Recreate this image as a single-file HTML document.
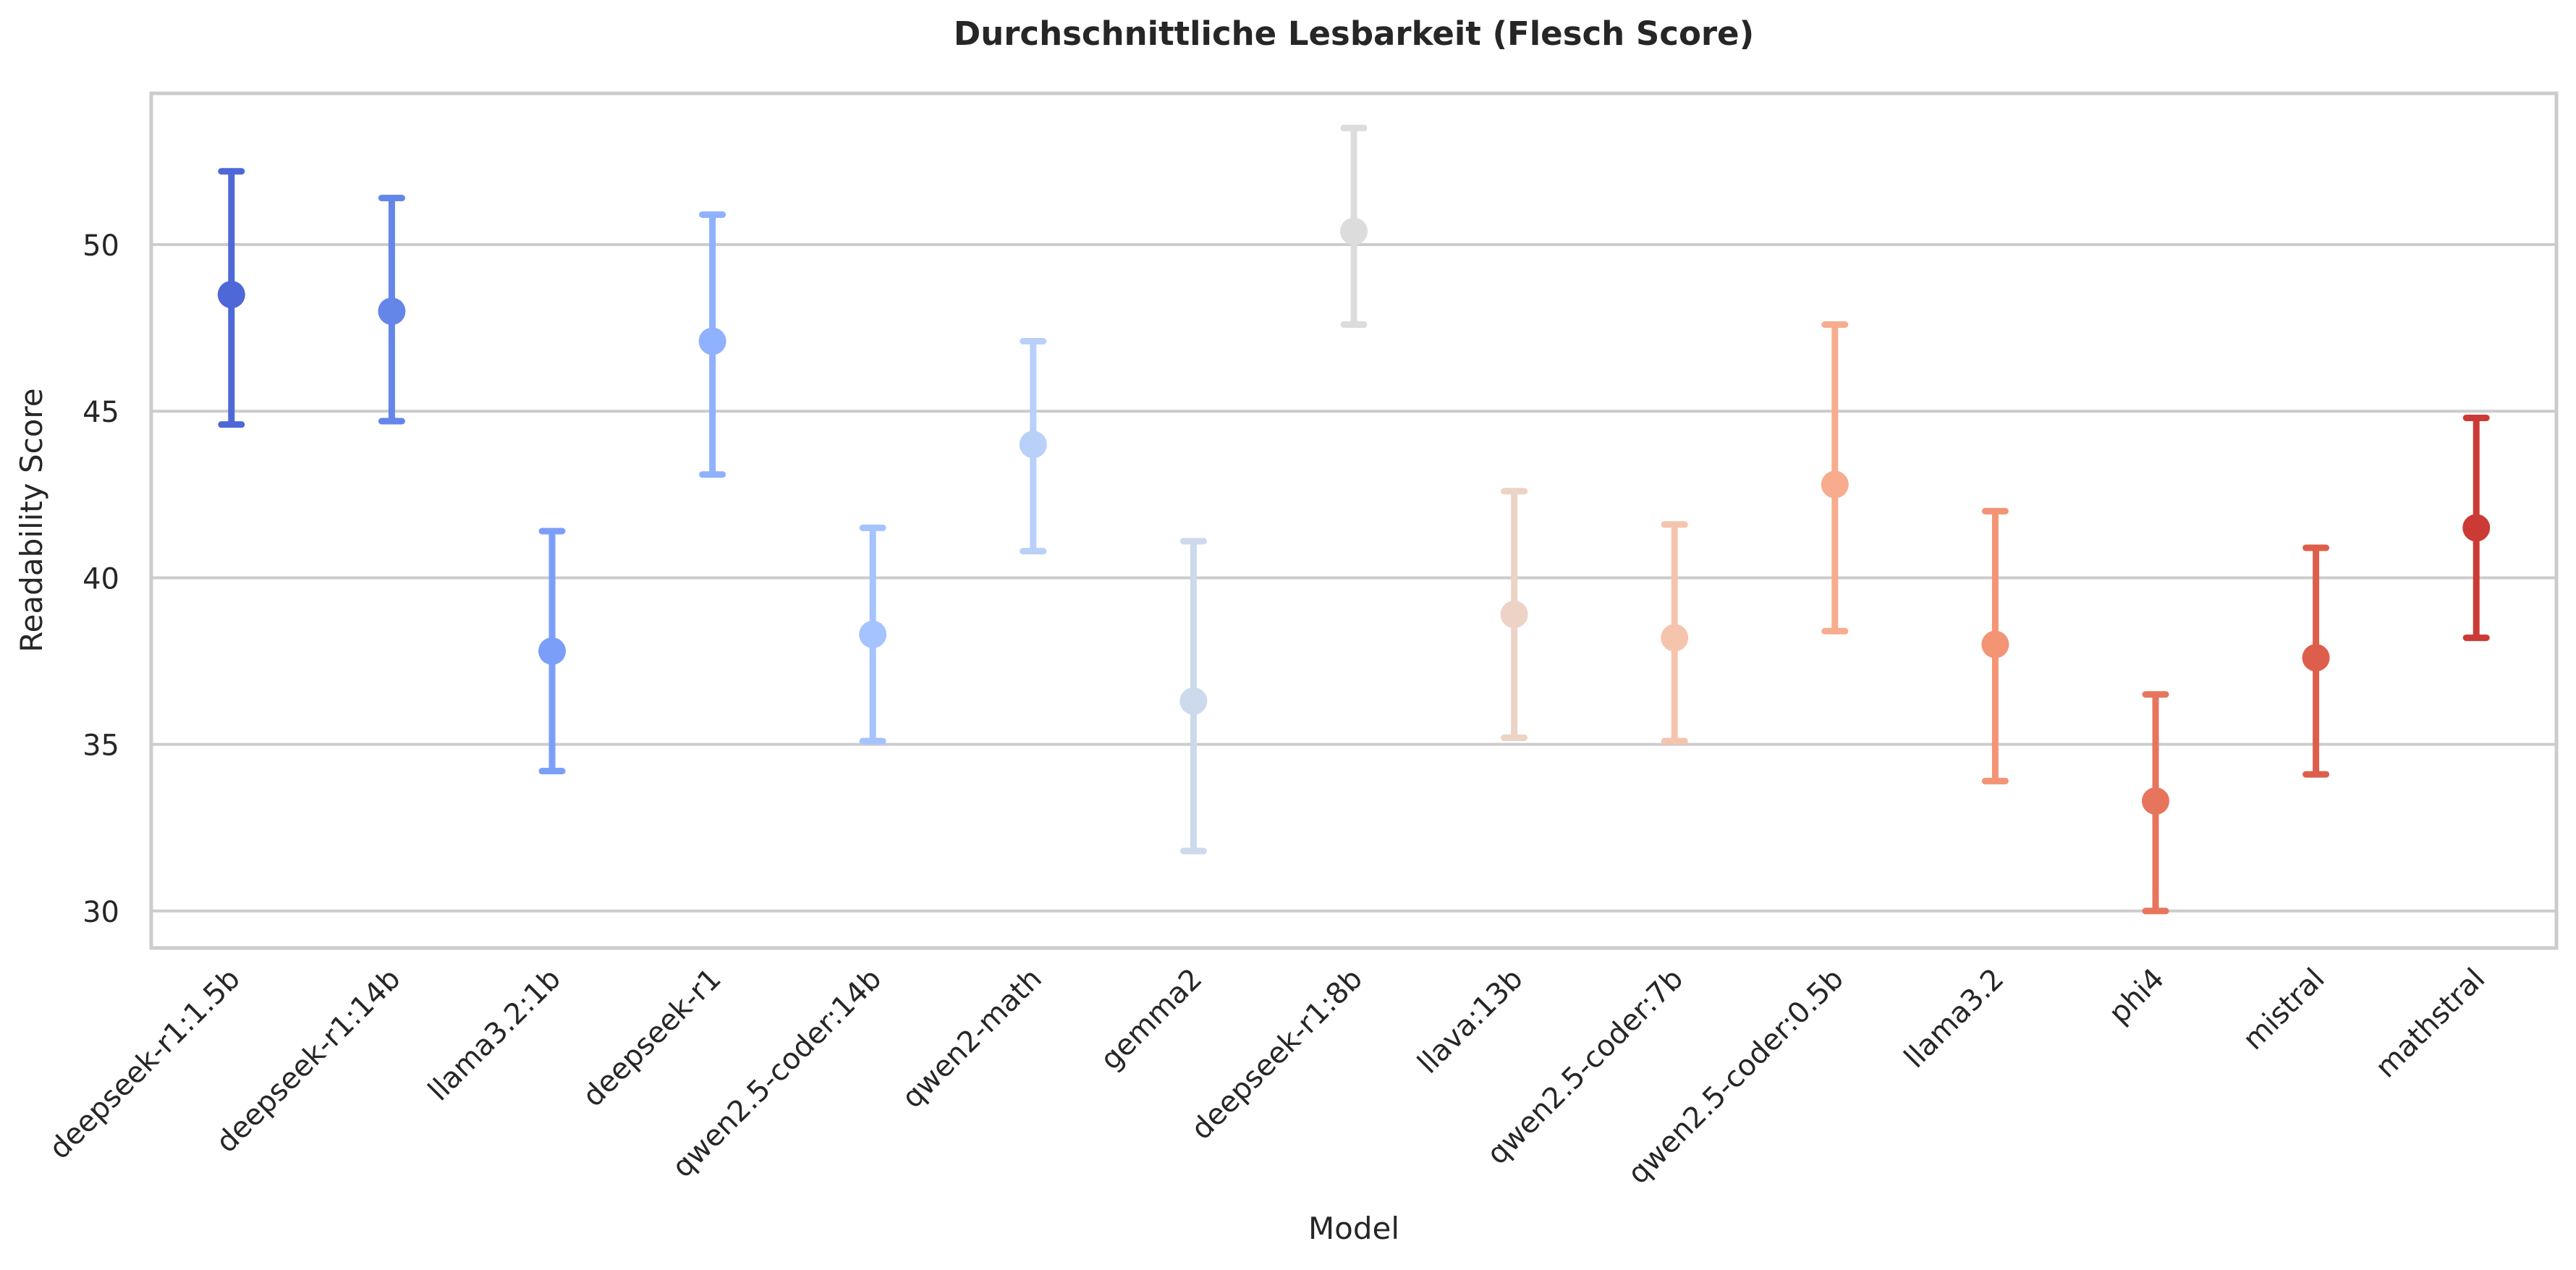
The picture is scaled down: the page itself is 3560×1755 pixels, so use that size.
<!DOCTYPE html>
<html><head><meta charset="utf-8"><style>
html,body{margin:0;padding:0;background:#fff;}
svg{display:block;font-family:"DejaVu Sans","Liberation Sans",sans-serif;}
</style></head><body>
<svg id="chart" width="3560" height="1755" viewBox="0 0 3560 1755" xmlns="http://www.w3.org/2000/svg">
<rect width="3560" height="1755" fill="#fff"/>
<text x="1871" y="62" text-anchor="middle" font-size="45" font-weight="bold" fill="#262626">Durchschnittliche Lesbarkeit (Flesch Score)</text>
<g id="grid"></g>
<g id="marks"></g>
<g id="xticks"></g>
<g id="yticks"></g>
<rect x="209" y="129" width="3324" height="1181" fill="none" stroke="#cccccc" stroke-width="5"/>
<text transform="translate(58,719) rotate(-90)" text-anchor="middle" font-size="42" fill="#262626">Readability Score</text>
<text x="1871" y="1712" text-anchor="middle" font-size="42" fill="#262626">Model</text>
</svg>
<script>
const categories = ["deepseek-r1:1.5b","deepseek-r1:14b","llama3.2:1b","deepseek-r1","qwen2.5-coder:14b","qwen2-math","gemma2","deepseek-r1:8b","llava:13b","qwen2.5-coder:7b","qwen2.5-coder:0.5b","llama3.2","phi4","mistral","mathstral"];
const means = [48.5,48.0,37.8,47.1,38.3,44.0,36.3,50.4,38.9,38.2,42.8,38.0,33.3,37.6,41.5];
const upper = [52.2,51.4,41.4,50.9,41.5,47.1,41.1,53.5,42.6,41.6,47.6,42.0,36.5,40.9,44.8];
const lower = [44.6,44.7,34.2,43.1,35.1,40.8,31.8,47.6,35.2,35.1,38.4,33.9,30.0,34.1,38.2];
const colors = ["#4e68d8","#6586e9","#7b9ff9","#8fb1fe","#a5c3fe","#b9d0f9","#cdd9ec","#dddcdc","#ecd3c5","#f5c4ac","#f7ac8e","#f39475","#e7755d","#dd5f4b","#cc3a36"];
const yTicks = [30,35,40,45,50];

const X0=209, X1=3533, Y0=1310, Y1=129, YMIN=28.89, YMAX=54.54;
const NS="http://www.w3.org/2000/svg";
function xPos(i){ return X0 + (i+0.5)*(X1-X0)/categories.length; }
function yPos(v){ return Y0 - (v-YMIN)/(YMAX-YMIN)*(Y0-Y1); }
function mk(tag, attrs, parent){ const e=document.createElementNS(NS,tag); for(const k in attrs) e.setAttribute(k,attrs[k]); parent.appendChild(e); return e; }

const grid=document.getElementById('grid'), yt=document.getElementById('yticks');
yTicks.forEach(v=>{
  const l=mk('line',{x1:X0,x2:X1,y1:yPos(v),y2:yPos(v),stroke:'#cccccc','stroke-width':4},grid);
  
  
  const t=mk('text',{x:165,y:yPos(v)+15,'text-anchor':'end','font-size':40,fill:'#262626'},yt);
  t.textContent=v;
  
  
});

const marks=document.getElementById('marks'), xt=document.getElementById('xticks');
categories.forEach((c,i)=>{
  const x=xPos(i), col=colors[i];
  const g=mk('g',{},marks);
  
  
  mk('line',{x1:x,x2:x,y1:yPos(upper[i]),y2:yPos(lower[i]),stroke:col,'stroke-width':9},g);
  mk('line',{x1:x-14,x2:x+14,y1:yPos(upper[i]),y2:yPos(upper[i]),stroke:col,'stroke-width':9,'stroke-linecap':'round'},g);
  mk('line',{x1:x-14,x2:x+14,y1:yPos(lower[i]),y2:yPos(lower[i]),stroke:col,'stroke-width':9,'stroke-linecap':'round'},g);
  mk('circle',{cx:x,cy:yPos(means[i]),r:19,fill:col},g);
  const t=mk('text',{transform:'translate('+(x+14)+',1355) rotate(-45)','text-anchor':'end','font-size':40,fill:'#262626'},xt);
  t.textContent=c;
  
  
});
</script>
</body></html>
